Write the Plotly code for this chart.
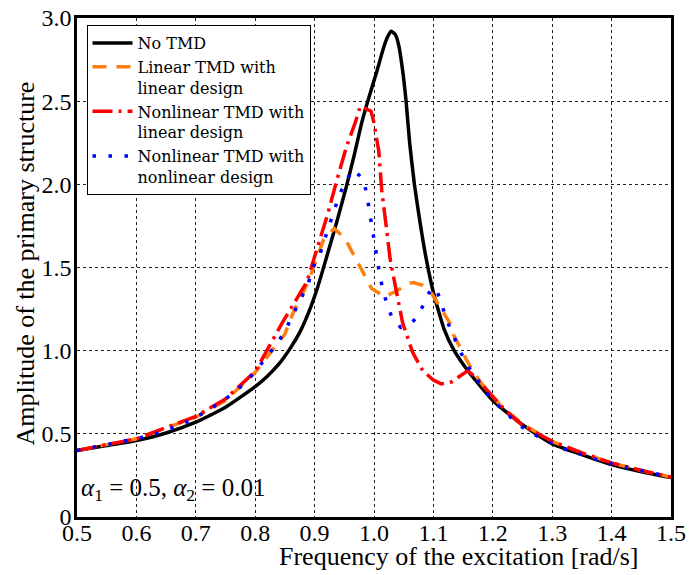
import plotly.graph_objects as go

# ---- data ----
x_none = [0.50, 0.55, 0.60, 0.65, 0.70, 0.75, 0.80, 0.82, 0.84, 0.86, 0.875, 0.89, 0.905, 0.92,
          0.937, 0.953, 0.967, 0.980, 0.992, 1.004, 1.016, 1.022, 1.029, 1.036, 1.042, 1.048,
          1.054, 1.060, 1.068, 1.078, 1.088, 1.100, 1.118, 1.135, 1.160, 1.200, 1.230, 1.260,
          1.300, 1.350, 1.400, 1.450, 1.500]
y_none = [0.40, 0.43, 0.46, 0.505, 0.57, 0.66, 0.784, 0.845, 0.92, 1.02, 1.11, 1.23, 1.38, 1.56,
          1.77, 1.98, 2.18, 2.38, 2.53, 2.67, 2.82, 2.88, 2.92, 2.90, 2.83, 2.69,
          2.50, 2.25, 2.00, 1.76, 1.55, 1.35, 1.13, 1.00, 0.87, 0.70, 0.61, 0.53,
          0.44, 0.375, 0.315, 0.272, 0.237]

x_lin = [0.50, 0.60, 0.70, 0.75, 0.80, 0.85, 0.863, 0.89, 0.915, 0.933, 0.951, 0.962, 0.974, 0.985,
         0.996, 1.018, 1.035, 1.060, 1.066, 1.081, 1.097, 1.111, 1.128, 1.134, 1.145, 1.156, 1.167,
         1.181, 1.195, 1.220, 1.257, 1.300, 1.350, 1.400, 1.450, 1.500]
y_lin = [0.40, 0.47, 0.60, 0.70, 0.87, 1.10, 1.22, 1.42, 1.665, 1.735, 1.675, 1.60, 1.514, 1.444,
         1.374, 1.324, 1.354, 1.405, 1.41, 1.394, 1.344, 1.264, 1.164, 1.094, 1.024, 0.944, 0.873,
         0.803, 0.743, 0.645, 0.543, 0.455, 0.385, 0.325, 0.28, 0.24]

x_nl_lin = [0.50, 0.60, 0.70, 0.75, 0.80, 0.846, 0.887, 0.905, 0.922, 0.937, 0.954, 0.968, 0.977,
            0.995, 1.000, 1.008, 1.013, 1.021, 1.027, 1.038, 1.048, 1.065, 1.082, 1.100, 1.113,
            1.131, 1.158, 1.170, 1.198, 1.220, 1.250, 1.300, 1.350, 1.400, 1.450, 1.500]
y_nl_lin = [0.40, 0.47, 0.605, 0.71, 0.875, 1.17, 1.414, 1.62, 1.82, 2.02, 2.23, 2.366, 2.47,
            2.44, 2.37, 2.20, 1.965, 1.735, 1.555, 1.35, 1.17, 0.99, 0.88, 0.823, 0.80,
            0.813, 0.88, 0.843, 0.733, 0.645, 0.55, 0.455, 0.385, 0.325, 0.28, 0.24]

x_nl_nl = [0.50, 0.55, 0.60, 0.65, 0.682, 0.704, 0.726, 0.748, 0.768, 0.788, 0.805, 0.823, 0.839,
           0.853, 0.865, 0.876, 0.889, 0.897, 0.909, 0.917, 0.925, 0.934, 0.942, 0.953, 0.965,
           0.982, 0.988, 0.992, 0.996, 1.000, 1.005, 1.009, 1.014, 1.021, 1.030, 1.045, 1.060,
           1.073, 1.085, 1.097, 1.107, 1.115, 1.124, 1.134, 1.145, 1.157, 1.172, 1.187, 1.204,
           1.224, 1.244, 1.268, 1.292, 1.316, 1.350, 1.392, 1.450, 1.500]
y_nl_nl = [0.40, 0.435, 0.47, 0.52, 0.567, 0.607, 0.653, 0.703, 0.76, 0.823, 0.897, 0.977, 1.053,
           1.14, 1.23, 1.31, 1.40, 1.50, 1.58, 1.67, 1.76, 1.85, 1.94, 2.02, 2.09,
           2.03, 1.94, 1.845, 1.75, 1.655, 1.56, 1.47, 1.38, 1.29, 1.20, 1.14, 1.16,
           1.20, 1.29, 1.38, 1.35, 1.26, 1.17, 1.088, 0.998, 0.913, 0.834, 0.757, 0.687,
           0.617, 0.553, 0.499, 0.457, 0.413, 0.375, 0.325, 0.28, 0.24]

series_names = ["No TMD", "Linear TMD with<br>linear design",
                "Nonlinear TMD with<br>linear design", "Nonlinear TMD with<br>nonlinear design"]

x_ticks = [0.5, 0.6, 0.7, 0.8, 0.9, 1.0, 1.1, 1.2, 1.3, 1.4, 1.5]
x_tick_text = ["0.5", "0.6", "0.7", "0.8", "0.9", "1.0", "1.1", "1.2", "1.3", "1.4", "1.5"]
y_ticks = [0, 0.5, 1.0, 1.5, 2.0, 2.5, 3.0]
y_tick_text = ["0", "0.5", "1.0", "1.5", "2.0", "2.5", "3.0"]

FONT = "Liberation Serif"
LEG_FONT = "DejaVu Serif"

fig = go.Figure()
fig.add_trace(go.Scatter(x=x_none, y=y_none, mode="lines", name=series_names[0],
                         line=dict(color="black", width=3.5, shape="spline", smoothing=0.5)))
fig.add_trace(go.Scatter(x=x_lin, y=y_lin, mode="lines", name=series_names[1],
                         line=dict(color="#ff7f0e", width=3.5, dash="14px,10px")))
fig.add_trace(go.Scatter(x=x_nl_lin, y=y_nl_lin, mode="lines", name=series_names[2],
                         line=dict(color="#ff0000", width=3.5, dash="20px,6px,3px,6px")))
fig.add_trace(go.Scatter(x=x_nl_nl, y=y_nl_nl, mode="lines", name=series_names[3],
                         line=dict(color="#0000ff", width=3.5, dash="3.5px,12.5px")))

axis_common = dict(showline=True, linecolor="black", linewidth=2.5, mirror=True,
                   showgrid=True, gridcolor="#222222", gridwidth=1, griddash="3px,3px",
                   zeroline=False, ticks="", automargin=False,
                   tickfont=dict(family=FONT, size=24, color="black"))

fig.update_xaxes(range=[0.5, 1.5], tickvals=x_ticks, ticktext=x_tick_text,
                 ticklabelstandoff=-8, **axis_common)
fig.update_yaxes(range=[0, 3.0], tickvals=y_ticks, ticktext=y_tick_text,
                 ticklabelstandoff=-2, **axis_common)

fig.add_annotation(text="Frequency of the excitation [rad/s]", xref="paper", yref="paper",
                   x=0.643, y=-0.08, xanchor="center", yanchor="middle", showarrow=False,
                   font=dict(family=FONT, size=26, color="black"))
fig.add_annotation(text="Amplitude of the primary structure", xref="paper", yref="paper",
                   x=-0.0875, y=0.508, xanchor="center", yanchor="middle", showarrow=False,
                   textangle=-90, font=dict(family=FONT, size=26, color="black"))
fig.add_annotation(text="<i>α</i><sub>1</sub> = 0.5, <i>α</i><sub>2</sub> = 0.01",
                   xref="paper", yref="paper", x=0.004, y=0.056, xanchor="left", yanchor="middle",
                   showarrow=False, font=dict(family=FONT, size=25, color="black"))

fig.update_layout(
    width=689, height=575,
    margin=dict(l=77, r=18, t=18, b=58),
    paper_bgcolor="white", plot_bgcolor="white",
    font=dict(family=FONT, size=19, color="black"),
    showlegend=True,
    legend=dict(x=0.016, y=0.986, xanchor="left", yanchor="top",
                bgcolor="white", bordercolor="black", borderwidth=1,
                font=dict(family=LEG_FONT, size=16, color="black"),
                itemwidth=40, valign="top", tracegroupgap=0),
)

# remove the browser's default 8px body margin so the figure sits at the window's corner
fig.write_html("out.html", config={"displayModeBar": False},
               post_script="document.body.style.margin='0px';")
